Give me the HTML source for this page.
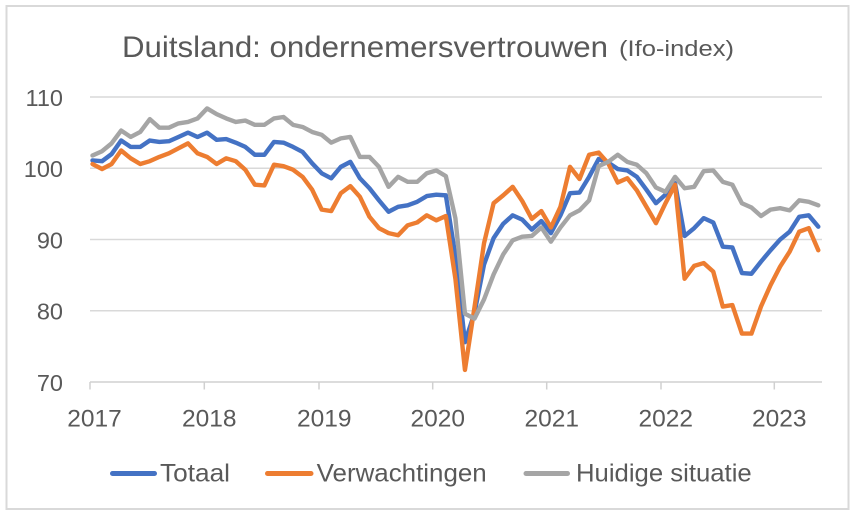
<!DOCTYPE html>
<html>
<head>
<meta charset="utf-8">
<style>
  html, body { margin: 0; padding: 0; background: #ffffff; }
  svg { display: block; }
  text { font-family: "Liberation Sans", Arial, sans-serif; fill: #595959; }
</style>
</head>
<body>
<svg width="858" height="519" viewBox="0 0 858 519" xmlns="http://www.w3.org/2000/svg">
  <rect x="0" y="0" width="858" height="519" fill="#ffffff"/>
  <rect x="6.5" y="6" width="842" height="503" fill="none" stroke="#D9D9D9" stroke-width="2"/>

  <!-- Title -->
  <text x="122" y="57" font-size="30" textLength="486" lengthAdjust="spacingAndGlyphs">Duitsland: ondernemersvertrouwen</text>
  <text x="619" y="56" font-size="22" textLength="115" lengthAdjust="spacingAndGlyphs">(Ifo-index)</text>

  <!-- Gridlines -->
  <g stroke="#D9D9D9" stroke-width="1.5">
    <line x1="90" x2="822" y1="97.05" y2="97.05"/>
    <line x1="90" x2="822" y1="168.3" y2="168.3"/>
    <line x1="90" x2="822" y1="239.55" y2="239.55"/>
    <line x1="90" x2="822" y1="310.8" y2="310.8"/>
  </g>
  <!-- Axis + ticks -->
  <g stroke="#D0D0D0" stroke-width="1.5">
    <line x1="90" x2="822" y1="382.05" y2="382.05"/>
    <line x1="90" x2="90" y1="382" y2="389.5"/>
    <line x1="204.3" x2="204.3" y1="382" y2="389.5"/>
    <line x1="319" x2="319" y1="382" y2="389.5"/>
    <line x1="432.7" x2="432.7" y1="382" y2="389.5"/>
    <line x1="546.7" x2="546.7" y1="382" y2="389.5"/>
    <line x1="661" x2="661" y1="382" y2="389.5"/>
    <line x1="774.3" x2="774.3" y1="382" y2="389.5"/>
  </g>

  <!-- Y labels -->
  <g font-size="23.5" text-anchor="end">
    <text x="63" y="106">110</text>
    <text x="63" y="177">100</text>
    <text x="63" y="248.3">90</text>
    <text x="63" y="319.5">80</text>
    <text x="63" y="390.8">70</text>
  </g>

  <!-- X labels -->
  <g font-size="24.5" text-anchor="middle">
    <text x="94.5" y="426.5">2017</text>
    <text x="209.2" y="426.5">2018</text>
    <text x="324.2" y="426.5">2019</text>
    <text x="437.8" y="426.5">2020</text>
    <text x="551.7" y="426.5">2021</text>
    <text x="665.8" y="426.5">2022</text>
    <text x="779.2" y="426.5">2023</text>
  </g>

  <!-- Series -->
  <g transform="matrix(9.55 0 0 -7.125 92.5 880.8)" fill="none" stroke-linejoin="round" stroke-linecap="round">
    <polyline vector-effect="non-scaling-stroke" stroke="#4472C4" stroke-width="4.4"
      points="0,101.1 1,101.0 2,102.0 3,103.9 4,103.0 5,103.0 6,103.9 7,103.7 8,103.8 9,104.4 10,105.0 11,104.4 12,105.0 13,104.0 14,104.1 15,103.6 16,103.0 17,101.9 18,101.9 19,103.7 20,103.6 21,103.0 22,102.3 23,100.7 24,99.3 25,98.6 26,100.2 27,100.9 28,98.6 29,97.2 30,95.5 31,93.9 32,94.6 33,94.8 34,95.3 35,96.1 36,96.3 37,96.2 38,87.7 39,75.6 40,79.7 41,86.5 42,90.2 43,92.2 44,93.4 45,92.8 46,91.4 47,92.6 48,90.9 49,93.4 50,96.5 51,96.6 52,98.8 53,101.3 54,100.8 55,99.9 56,99.7 57,98.8 58,97.0 59,95.1 60,96.3 61,97.9 62,90.5 63,91.6 64,93.0 65,92.4 66,89.0 67,88.9 68,85.3 69,85.2 70,86.9 71,88.5 72,90.0 73,91.1 74,93.2 75,93.4 76,91.8"/>
    <polyline vector-effect="non-scaling-stroke" stroke="#ED7D31" stroke-width="4.4"
      points="0,100.6 1,99.9 2,100.6 3,102.5 4,101.4 5,100.6 6,101.0 7,101.6 8,102.1 9,102.8 10,103.5 11,102.1 12,101.6 13,100.6 14,101.4 15,101.0 16,99.8 17,97.7 18,97.6 19,100.5 20,100.3 21,99.8 22,98.8 23,97.0 24,94.2 25,94.0 26,96.5 27,97.5 28,96.0 29,93.2 30,91.6 31,90.9 32,90.6 33,92.0 34,92.4 35,93.4 36,92.7 37,93.3 38,84.5 39,71.7 40,80.5 41,89.5 42,95.1 43,96.2 44,97.4 45,95.4 46,92.9 47,94.0 48,91.7 49,94.6 50,100.2 51,98.5 52,101.9 53,102.2 54,100.7 55,98.0 56,98.6 57,96.9 58,94.6 59,92.3 60,95.1 61,97.7 62,84.5 63,86.3 64,86.7 65,85.5 66,80.6 67,80.8 68,76.8 69,76.8 70,80.6 71,83.6 72,86.2 73,88.3 74,91.1 75,91.6 76,88.5"/>
    <polyline vector-effect="non-scaling-stroke" stroke="#A5A5A5" stroke-width="4.4"
      points="0,101.8 1,102.4 2,103.5 3,105.3 4,104.4 5,105.1 6,106.9 7,105.7 8,105.7 9,106.3 10,106.5 11,107.0 12,108.4 13,107.6 14,107.0 15,106.5 16,106.7 17,106.1 18,106.1 19,107.0 20,107.2 21,106.1 22,105.8 23,105.1 24,104.7 25,103.6 26,104.2 27,104.4 28,101.6 29,101.6 30,100.2 31,97.4 32,98.8 33,98.1 34,98.1 35,99.3 36,99.7 37,98.9 38,93.0 39,79.6 40,78.9 41,81.6 42,85.1 43,87.9 44,89.9 45,90.4 46,90.5 47,91.7 48,89.7 49,91.7 50,93.4 51,94.1 52,95.5 53,100.3 54,100.9 55,101.9 56,100.9 57,100.5 58,99.3 59,97.3 60,96.7 61,98.8 62,97.2 63,97.4 64,99.6 65,99.7 66,98.1 67,97.7 68,95.1 69,94.5 70,93.3 71,94.2 72,94.4 73,94.1 74,95.5 75,95.3 76,94.8"/>
  </g>

  <!-- Legend -->
  <g stroke-width="5" stroke-linecap="round">
    <line x1="112.5" x2="154.5" y1="473.5" y2="473.5" stroke="#4472C4"/>
    <line x1="267.5" x2="311" y1="473.5" y2="473.5" stroke="#ED7D31"/>
    <line x1="526" x2="567.5" y1="473.5" y2="473.5" stroke="#A5A5A5"/>
  </g>
  <g font-size="25">
    <text x="160" y="481.5" textLength="70" lengthAdjust="spacingAndGlyphs">Totaal</text>
    <text x="316.7" y="481.5" textLength="170" lengthAdjust="spacingAndGlyphs">Verwachtingen</text>
    <text x="576" y="481.5" textLength="175.7" lengthAdjust="spacingAndGlyphs">Huidige situatie</text>
  </g>
</svg>
</body>
</html>
